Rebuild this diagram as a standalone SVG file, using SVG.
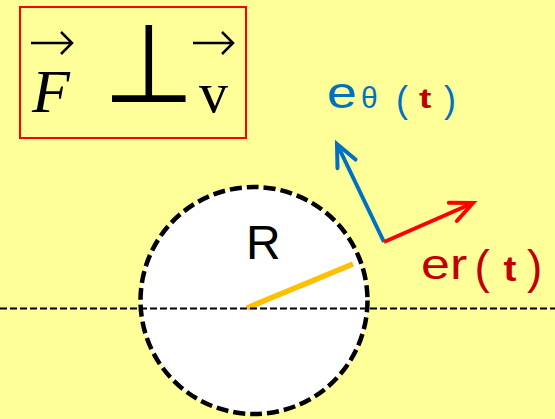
<svg xmlns="http://www.w3.org/2000/svg" width="555" height="419" viewBox="0 0 555 419">
  <style>
    .serif { font-family: "Liberation Serif", "Times New Roman", serif; fill: #000; }
    .sans { font-family: "Liberation Sans", Arial, sans-serif; }
    .blue { fill: #0070C0; }
    .dred { fill: #C00000; }
    .vecbar { fill: none; stroke: #000; stroke-width: 2.5; stroke-linecap: butt; }
  </style>
  <defs>
    <marker id="headBlue" markerUnits="userSpaceOnUse" orient="auto" markerWidth="40" markerHeight="40" refX="0" refY="0" viewBox="-30 -20 40 40" overflow="visible">
      <path d="M-22,-10 L0,0 L-22,10" fill="none" stroke="#0070C0" stroke-width="4" stroke-linecap="round" stroke-linejoin="miter"/>
    </marker>
    <marker id="headRed" markerUnits="userSpaceOnUse" orient="auto" markerWidth="40" markerHeight="40" refX="0" refY="0" viewBox="-30 -20 40 40" overflow="visible">
      <path d="M-22,-10 L0,0 L-22,10" fill="none" stroke="#FF0000" stroke-width="4" stroke-linecap="round" stroke-linejoin="miter"/>
    </marker>
  </defs>

  <rect x="0" y="0" width="555" height="419" fill="#FFFF99"/>

  <g id="formula">
    <rect x="20" y="7" width="226" height="131" fill="none" stroke="#FF0000" stroke-width="2"/>
    <path class="vecbar" d="M31,43 H71 M61,32 L72,43 L61,54"/>
    <text class="serif" x="32" y="112" font-size="62" font-style="italic">F</text>
    <text transform="translate(149,101.5) scale(1.05,1.1)" x="0" y="0" font-family="DejaVu Sans, sans-serif" font-size="100" text-anchor="middle">⊥</text>
    <path class="vecbar" d="M193,43 H232 M222,32 L233,43 L222,54"/>
    <text class="serif" x="199" y="112" font-size="58">v</text>
  </g>

  <g id="circle">
    <circle cx="254" cy="300.5" r="113.5" fill="#FFFFFF" stroke="#000" stroke-width="4.5" stroke-dasharray="12,5"/>
    <line x1="247" y1="308" x2="353" y2="264" stroke="#FFC000" stroke-width="5.5"/>
    <text class="sans" x="246" y="259" font-size="48" fill="#000">R</text>
  </g>

  <g id="axis">
    <line x1="0" y1="308.5" x2="555" y2="308.5" stroke="#000" stroke-width="2" stroke-dasharray="7,3"/>
  </g>

  <g id="connectors">
    <line x1="384" y1="242" x2="337" y2="144" stroke="#0070C0" stroke-width="4" marker-end="url(#headBlue)"/>
    <line x1="384" y1="242" x2="473" y2="203" stroke="#FF0000" stroke-width="4" marker-end="url(#headRed)"/>
  </g>

  <g id="e-theta">
    <text class="sans blue" transform="translate(327,107.6) scale(1,0.83)" x="0" y="0" font-size="54">e</text>
    <text class="sans blue" x="361" y="108" font-size="30">θ</text>
    <text class="sans blue" x="396" y="112" font-size="36">(</text>
    <text class="sans dred" transform="translate(419,107.5) scale(1.17,0.88)" x="0" y="0" font-size="32" font-weight="bold">t</text>
    <text class="sans blue" x="444" y="112" font-size="36">)</text>
  </g>

  <g id="e-r">
    <text class="sans dred" transform="translate(421,279.4) scale(1,0.8)" x="0" y="0" font-size="52">er</text>
    <text class="sans dred" x="474.5" y="283" font-size="46">(</text>
    <text class="sans dred" transform="translate(503.5,281) scale(1.02,0.92)" x="0" y="0" font-size="38" font-weight="bold">t</text>
    <text class="sans dred" x="527" y="283" font-size="46">)</text>
  </g>
</svg>
